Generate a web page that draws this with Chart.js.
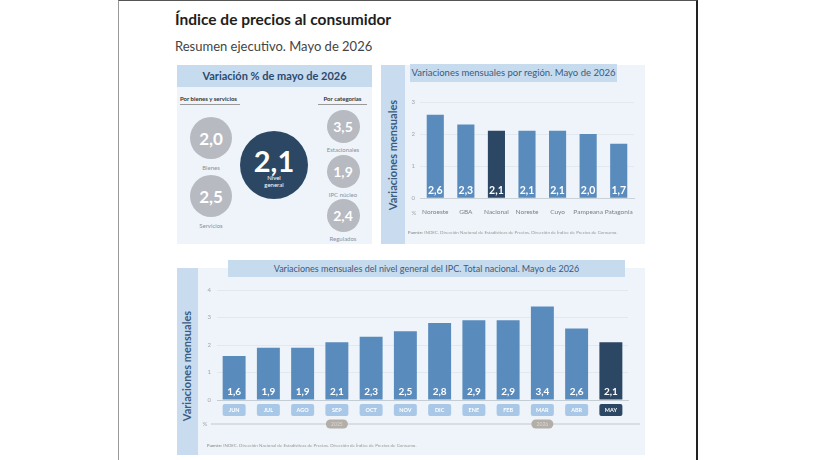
<!DOCTYPE html>
<html>
<head>
<meta charset="utf-8">
<script src="https://cdn.jsdelivr.net/npm/chart.js@4"></script>
<style>
  body { margin: 0; background: #fff; font-family: Lato, "Noto Sans", sans-serif; }
  .abs { position: absolute; }
  .page { left: 118px; top: 0; width: 580px; height: 460px; border-left: 1px solid #999; border-right: 2px solid #222; border-top: 1px solid #555; box-sizing: border-box; }
  .title { left: 175px; top: 10px; font-size: 15.5px; font-weight: bold; color: #1e1e1e; }
  .subtitle { left: 175px; top: 38px; font-size: 13px; color: #444; }
  .panel { background: #eef4fa; }
  .strip { background: #c9dcef; }
  .head { background: #c7dbee; color: #3b5a7d; text-align: center; white-space: nowrap; }
  .circle { border-radius: 50%; color: #fff; font-weight: bold; display: flex; align-items: center; justify-content: center; flex-direction: column; }
  .gray { background: #b7bac1; }
  .cap { font-size: 6px; color: #8c9097; text-align: center; width: 60px; }
  .sec { font-size: 6px; font-weight: bold; color: #333; border-bottom: 1px solid #999; padding-bottom: 2px; white-space: nowrap; }
  .ytitle { transform: rotate(-90deg); transform-origin: center; font-weight: bold; color: #3b5a7d; white-space: nowrap; text-align: center; }
  .src { font-size: 4.5px; color: #999; white-space: nowrap; }
</style>
</head>
<body>
<div class="abs page"></div>
<div class="abs title">Índice de precios al consumidor</div>
<div class="abs subtitle">Resumen ejecutivo. Mayo de 2026</div>

<!-- panel 1: KPI -->
<div class="abs panel" style="left:177px;top:65px;width:195px;height:179px;"></div>
<div class="abs head" style="left:177px;top:65px;width:195px;height:22px;line-height:22px;font-size:11px;font-weight:bold;color:#2c4a70;">Variación % de mayo de 2026</div>
<div class="abs sec" style="left:180px;top:95px;width:60px;">Por bienes y servicios</div>
<div class="abs sec" style="left:318px;top:95px;width:49px;text-align:center;">Por categorías</div>
<div id="kpis"></div>

<!-- panel 2: region -->
<div class="abs panel" style="left:381px;top:65px;width:264px;height:179px;"></div>
<div class="abs strip" style="left:381px;top:65px;width:24px;height:179px;"></div>
<div class="abs head" style="left:410px;top:64px;width:207px;height:18px;line-height:18px;font-size:9.5px;">Variaciones mensuales por región. Mayo de 2026</div>
<div class="abs ytitle" style="left:333px;top:148px;width:120px;height:14px;line-height:14px;font-size:11px;">Variaciones mensuales</div>
<div class="abs" style="left:405px;top:84px;width:240px;height:160px;"><canvas id="region"></canvas></div>
<div class="abs src" style="left:408px;top:230px;"><b>Fuente:</b> INDEC. Dirección Nacional de Estadísticas de Precios. Dirección de Índice de Precios de Consumo.</div>

<!-- panel 3: monthly -->
<div class="abs panel" style="left:177px;top:268px;width:468px;height:187px;"></div>
<div class="abs strip" style="left:177px;top:268px;width:21px;height:187px;"></div>
<div class="abs head" style="left:228px;top:260px;width:397px;height:17px;line-height:17px;font-size:9px;">Variaciones mensuales del nivel general del IPC. Total nacional. Mayo de 2026</div>
<div class="abs ytitle" style="left:127px;top:359px;width:120px;height:14px;line-height:14px;font-size:11px;">Variaciones mensuales</div>
<div class="abs" style="left:198px;top:280px;width:447px;height:175px;"><canvas id="monthly"></canvas></div>
<div class="abs src" style="left:207px;top:443px;"><b>Fuente:</b> INDEC. Dirección Nacional de Estadísticas de Precios. Dirección de Índice de Precios de Consumo.</div>

<script>
// KPI values
const kpiLabels = ["Bienes", "Servicios", "Nivel general", "Estacionales", "IPC núcleo", "Regulados"];
const kpiValues = [2.0, 2.5, 2.1, 3.5, 1.9, 2.4];

// region chart
const regions = ["Noroeste", "GBA", "Nacional", "Noreste", "Cuyo", "Pampeana", "Patagonia"];
const regionValues = [2.6, 2.3, 2.1, 2.1, 2.1, 2.0, 1.7];
const regionTicks = [0, 1, 2, 3];

// monthly chart
const months = ["JUN", "JUL", "AGO", "SEP", "OCT", "NOV", "DIC", "ENE", "FEB", "MAR", "ABR", "MAY"];
const monthValues = [1.6, 1.9, 1.9, 2.1, 2.3, 2.5, 2.8, 2.9, 2.9, 3.4, 2.6, 2.1];
const years = ["2025", "2026"];
const yearSpans = [[0, 6], [7, 11]];

const fmt = v => v.toFixed(1).replace(".", ",");
const BLUE = "#5a8bbd";
const DARK = "#2c4763";

// KPI circles
const kpiPos = [
  { x: 211, y: 138, r: 21, f: 17, cy: 164 },
  { x: 211, y: 196, r: 21, f: 17, cy: 222 },
  { x: 274, y: 165, r: 34, f: 29, cy: null },
  { x: 343, y: 126, r: 16.5, f: 14, cy: 146 },
  { x: 343, y: 171, r: 16.5, f: 14, cy: 191 },
  { x: 343, y: 215, r: 16.5, f: 14, cy: 235 },
];
const box = document.getElementById("kpis");
kpiValues.forEach((v, i) => {
  const p = kpiPos[i];
  const c = document.createElement("div");
  c.className = "abs circle" + (p.cy === null ? "" : " gray");
  c.style.cssText += `left:${p.x - p.r}px;top:${p.y - p.r}px;width:${p.r * 2}px;height:${p.r * 2}px;font-size:${p.f}px;`;
  if (p.cy === null) {
    c.style.background = DARK;
    c.innerHTML = `<div style="line-height:1;margin-top:4px">${fmt(v)}</div><div style="font-size:6px;font-weight:normal;line-height:1.1;text-align:center">Nivel<br>general</div>`;
  } else {
    c.textContent = fmt(v);
    const l = document.createElement("div");
    l.className = "abs cap";
    l.style.cssText += `left:${p.x - 30}px;top:${p.cy}px;`;
    l.textContent = kpiLabels[i];
    box.appendChild(l);
  }
  box.appendChild(c);
});

const barLabels = {
  id: "barLabels",
  afterDatasetsDraw(chart, args, opts) {
    const { ctx } = chart;
    const base = chart.scales.y.getPixelForValue(0);
    const ds = chart.data.datasets[0];
    ctx.save();
    ctx.font = `bold ${opts.size}px Lato`;
    ctx.fillStyle = "#fff";
    ctx.textAlign = "center";
    ctx.textBaseline = "middle";
    chart.getDatasetMeta(0).data.forEach((bar, i) => {
      ctx.fillText(fmt(ds.data[i]), bar.x, base - opts.offset);
    });
    ctx.fillStyle = "#aaa";
    ctx.font = "6px Lato";
    ctx.fillText("%", chart.chartArea.left - 6, opts.pctY);
    ctx.restore();
  }
};

function roundRect(ctx, x, y, w, h, r) {
  ctx.beginPath();
  ctx.moveTo(x + r, y);
  ctx.arcTo(x + w, y, x + w, y + h, r);
  ctx.arcTo(x + w, y + h, x, y + h, r);
  ctx.arcTo(x, y + h, x, y, r);
  ctx.arcTo(x, y, x + w, y, r);
  ctx.closePath();
}

const monthBoxes = {
  id: "monthBoxes",
  afterDraw(chart) {
    const { ctx, chartArea } = chart;
    const xs = chart.scales.x;
    const top = chartArea.bottom + 4;
    ctx.save();
    ctx.textAlign = "center";
    ctx.textBaseline = "middle";
    ctx.font = "bold 5.5px Lato";
    months.forEach((m, i) => {
      const x = xs.getPixelForValue(i);
      const last = i === months.length - 1;
      ctx.fillStyle = last ? DARK : "#a9c8e8";
      roundRect(ctx, x - 11.5, top, 23, 12, 2);
      ctx.fill();
      ctx.fillStyle = "#fff";
      ctx.fillText(m, x, top + 6);
    });
    // timeline
    const ly = chartArea.bottom + 24;
    ctx.strokeStyle = "#c4c8cc";
    ctx.lineWidth = 1;
    ctx.beginPath();
    ctx.moveTo(chartArea.left - 6, ly);
    ctx.lineTo(chartArea.right + 12, ly);
    ctx.stroke();
    ctx.fillStyle = "#aaa";
    ctx.font = "6px Lato";
    ctx.fillText("%", chartArea.left - 12, ly);
    yearSpans.forEach((s, k) => {
      const cx = (xs.getPixelForValue(s[0]) + xs.getPixelForValue(s[1])) / 2;
      ctx.fillStyle = "#b3aea8";
      roundRect(ctx, cx - 11, ly - 4.5, 22, 9, 4.5);
      ctx.fill();
      ctx.fillStyle = "#d9d6d2";
      ctx.font = "5px Lato";
      ctx.fillText(years[k], cx, ly);
    });
    ctx.restore();
  }
};

const tinyTicks = { color: "#a5a5a5", font: { size: 6, family: "Lato" } };

new Chart(document.getElementById("region"), {
  type: "bar",
  data: {
    labels: regions,
    datasets: [{
      data: regionValues,
      backgroundColor: regions.map(r => r === "Nacional" ? DARK : BLUE),
      categoryPercentage: 0.56,
      barPercentage: 1,
    }],
  },
  options: {
    responsive: true,
    maintainAspectRatio: false,
    animation: false,
    layout: { padding: { top: 18, right: 11, bottom: 26, left: 0 } },
    plugins: {
      legend: { display: false },
      tooltip: { enabled: false },
      barLabels: { size: 10.5, offset: 8, pctY: 129 },
    },
    scales: {
      x: {
        grid: { display: false },
        border: { color: "#c9d1d9" },
        ticks: { color: "#7b8089", font: { size: 6.5, family: "Lato" }, padding: 2, autoSkip: false, maxRotation: 0 },
      },
      y: {
        min: 0, max: 3,
        afterBuildTicks: s => { s.ticks = regionTicks.map(v => ({ value: v })); },
        afterFit: s => { s.width = 15; },
        grid: { color: "#e1e8ef", drawTicks: false },
        border: { display: false },
        ticks: Object.assign({ padding: 5 }, tinyTicks),
      },
    },
  },
  plugins: [barLabels],
});

new Chart(document.getElementById("monthly"), {
  type: "bar",
  data: {
    labels: months,
    datasets: [{
      data: monthValues,
      backgroundColor: months.map((m, i) => i === months.length - 1 ? DARK : BLUE),
      categoryPercentage: 0.67,
      barPercentage: 1,
    }],
  },
  options: {
    responsive: true,
    maintainAspectRatio: false,
    animation: false,
    layout: { padding: { top: 10, right: 17, bottom: 47, left: 0 } },
    plugins: {
      legend: { display: false },
      tooltip: { enabled: false },
      barLabels: { size: 10, offset: 8, pctY: 1000 },
    },
    scales: {
      x: {
        grid: { display: false },
        border: { color: "#c4ccd4" },
        ticks: { display: false },
      },
      y: {
        min: 0, max: 4,
        afterFit: s => { s.width = 19; },
        grid: { color: "#e1e8ef", drawTicks: false },
        border: { display: false },
        ticks: Object.assign({ padding: 6, stepSize: 1 }, tinyTicks),
      },
    },
  },
  plugins: [barLabels, monthBoxes],
});
</script>
</body>
</html>
